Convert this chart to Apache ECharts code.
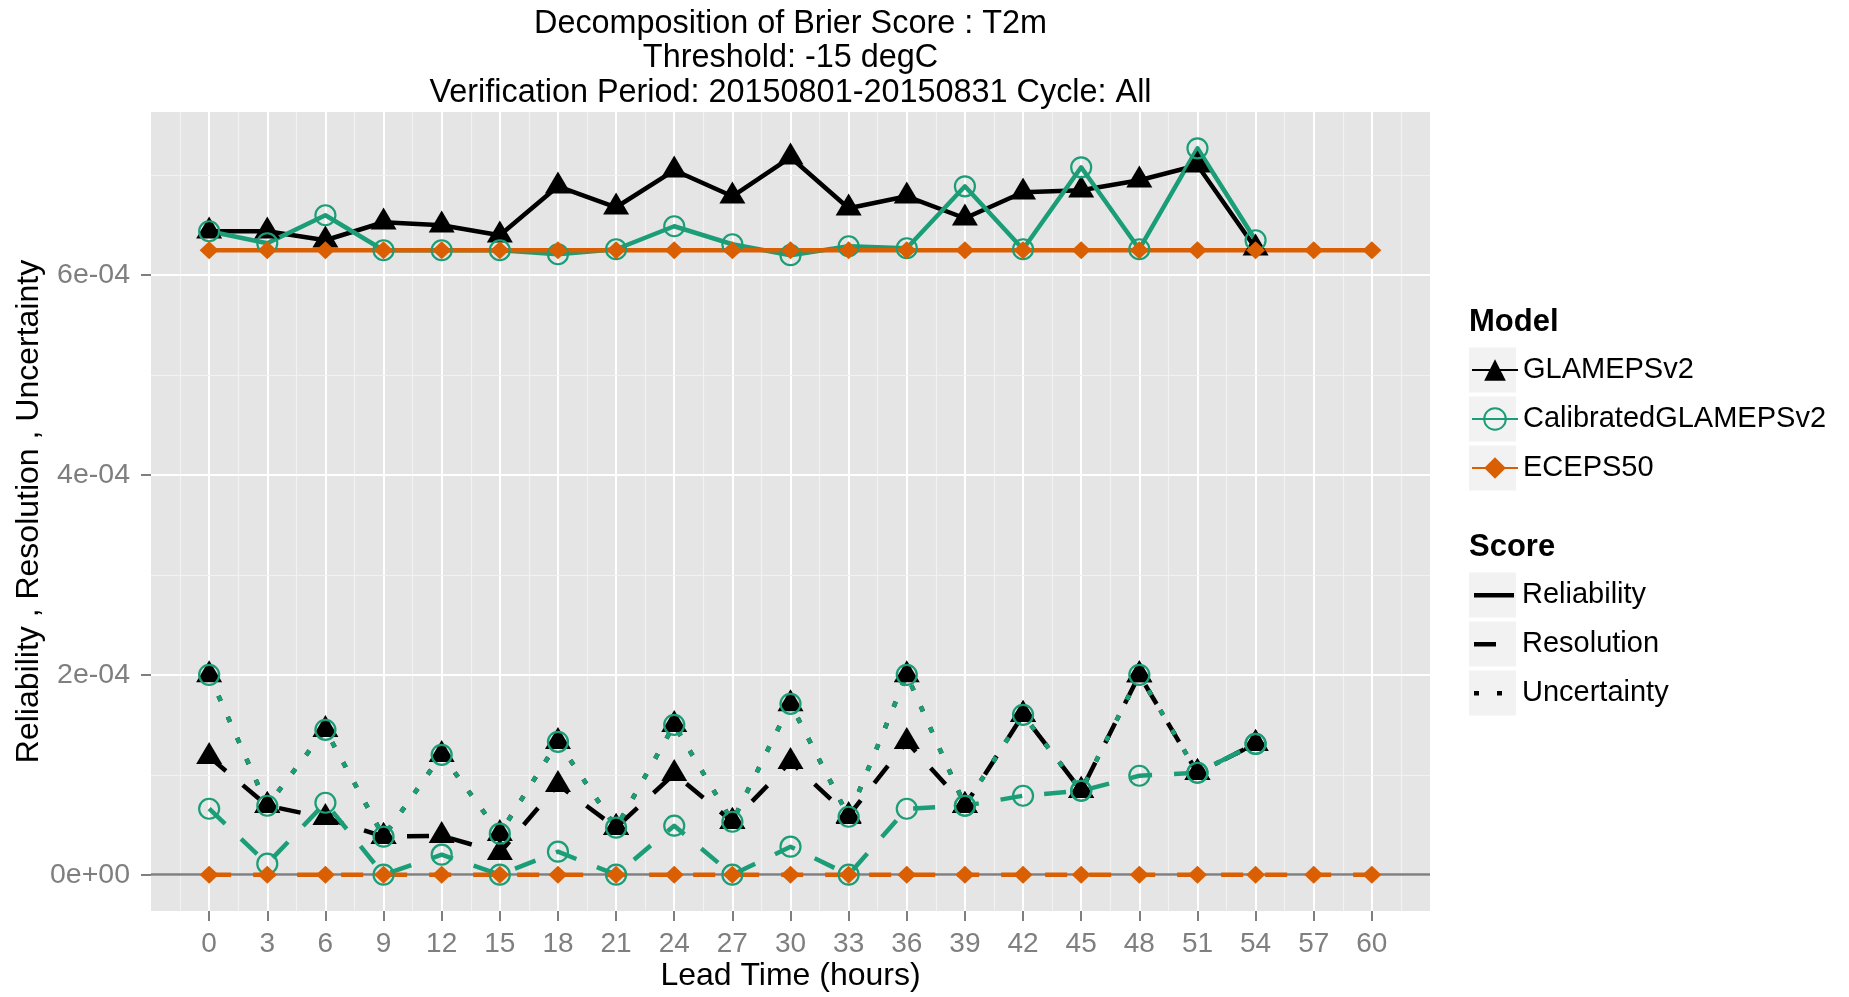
<!DOCTYPE html>
<html>
<head>
<meta charset="utf-8">
<script src="https://cdn.jsdelivr.net/npm/echarts@6.0.0/dist/echarts.min.js"></script>
<style>
html,body{margin:0;padding:0;background:#ffffff;}
#chart{width:1849px;height:997px;}
</style>
</head>
<body>
<div id="chart"></div>
<script>
// ---------------- data ----------------
const leadTimes = [0,3,6,9,12,15,18,21,24,27,30,33,36,39,42,45,48,51,54,57,60];
const xTickLabels = [0,3,6,9,12,15,18,21,24,27,30,33,36,39,42,45,48,51,54,57,60];
const yTicks = [0, 2e-4, 4e-4, 6e-4];
const yMinorGrid = [1e-4, 3e-4, 5e-4, 7e-4];
const yRange = [-0.3635e-4, 7.6335e-4];
const xRange = [-3, 63];

const titleLines = ['Decomposition of Brier Score : T2m', 'Threshold: -15 degC', 'Verification Period: 20150801-20150831 Cycle: All'];
const models = ['GLAMEPSv2', 'CalibratedGLAMEPSv2', 'ECEPS50'];
const scores = ['Reliability', 'Resolution', 'Uncertainty'];

const glamepsReliability = [6.44e-4,6.44e-4,6.35e-4,6.53e-4,6.50e-4,6.40e-4,6.89e-4,6.68e-4,7.05e-4,6.79e-4,7.18e-4,6.67e-4,6.79e-4,6.57e-4,6.83e-4,6.85e-4,6.95e-4,7.10e-4,6.27e-4];
const glamepsResolution  = [1.18e-4,0.69e-4,0.57e-4,0.38e-4,0.39e-4,0.22e-4,0.90e-4,0.47e-4,1.01e-4,0.53e-4,1.13e-4,0.59e-4,1.33e-4,0.69e-4,1.60e-4,0.84e-4,2.00e-4,1.02e-4,1.31e-4];
const glamepsUncertainty = [2.00e-4,0.69e-4,1.45e-4,0.38e-4,1.20e-4,0.41e-4,1.33e-4,0.47e-4,1.50e-4,0.53e-4,1.71e-4,0.58e-4,2.00e-4,0.69e-4,1.60e-4,0.84e-4,2.00e-4,1.02e-4,1.31e-4];

const calibReliability = [6.44e-4,6.32e-4,6.60e-4,6.25e-4,6.25e-4,6.25e-4,6.21e-4,6.26e-4,6.49e-4,6.31e-4,6.20e-4,6.29e-4,6.27e-4,6.89e-4,6.26e-4,7.08e-4,6.26e-4,7.27e-4,6.35e-4];
const calibResolution  = [0.66e-4,0.11e-4,0.72e-4,0,0.20e-4,0,0.23e-4,0,0.49e-4,0,0.28e-4,0,0.66e-4,0.69e-4,0.79e-4,0.84e-4,0.99e-4,1.02e-4,1.31e-4];
const calibUncertainty = [2.00e-4,0.69e-4,1.45e-4,0.38e-4,1.20e-4,0.41e-4,1.33e-4,0.47e-4,1.50e-4,0.53e-4,1.71e-4,0.58e-4,2.00e-4,0.69e-4,1.60e-4,0.84e-4,2.00e-4,1.02e-4,1.31e-4];

const ecepsReliability = [6.25e-4,6.25e-4,6.25e-4,6.25e-4,6.25e-4,6.25e-4,6.25e-4,6.25e-4,6.25e-4,6.25e-4,6.25e-4,6.25e-4,6.25e-4,6.25e-4,6.25e-4,6.25e-4,6.25e-4,6.25e-4,6.25e-4,6.25e-4,6.25e-4];
const ecepsResolution  = [0,0,0,0,0,0,0,0,0,0,0,0,0,0,0,0,0,0,0,0,0];

// ---------------- styles ----------------
const FONT = "'Liberation Sans', Arial, Helvetica, sans-serif";
const colors = {GLAMEPSv2:'#000000', CalibratedGLAMEPSv2:'#1B9E77', ECEPS50:'#D95F02'};
const dashes = {Reliability:'solid', Resolution:[22,22], Uncertainty:[5.5,17.5]};
const LINE_W = 4.5;

function pointStyle(model){
  if (model === 'GLAMEPSv2') return {symbol:'triangle', symbolSize:[26,22], symbolOffset:[0,-3.7], itemStyle:{color:'#000000', opacity:1}};
  if (model === 'CalibratedGLAMEPSv2') return {symbol:'circle', symbolSize:20, symbolOffset:[0,0], itemStyle:{color:'rgba(0,0,0,0)', borderColor:'#1B9E77', borderWidth:2.2, opacity:1}};
  return {symbol:'diamond', symbolSize:[19,18], symbolOffset:[0,0], itemStyle:{color:'#D95F02', opacity:1}};
}

const groups = [
  {model:'GLAMEPSv2', score:'Reliability', values:glamepsReliability},
  {model:'GLAMEPSv2', score:'Resolution', values:glamepsResolution},
  {model:'GLAMEPSv2', score:'Uncertainty', values:glamepsUncertainty},
  {model:'CalibratedGLAMEPSv2', score:'Reliability', values:calibReliability},
  {model:'CalibratedGLAMEPSv2', score:'Resolution', values:calibResolution},
  {model:'CalibratedGLAMEPSv2', score:'Uncertainty', values:calibUncertainty},
  {model:'ECEPS50', score:'Reliability', values:ecepsReliability},
  {model:'ECEPS50', score:'Resolution', values:ecepsResolution}
];

function pairs(values){ return values.map((v,i) => [leadTimes[i], v]); }

const series = [];
// gridlines + zero reference line
series.push({
  type:'line', name:'__grid', data:[], silent:true, animation:false,
  markLine:{
    silent:true, symbol:['none','none'], z:1, animation:false, precision:12,
    label:{show:false},
    emphasis:{disabled:true},
    data: [].concat(
      yMinorGrid.map(v => ({yAxis:v, lineStyle:{color:'#F2F2F2', width:1.2, type:'solid'}})),
      yTicks.map(v => ({yAxis:v, lineStyle:{color:'#FFFFFF', width:2, type:'solid'}})),
      [{yAxis:0, lineStyle:{color:'#7F7F7F', width:2.5, type:'solid'}}]
    )
  }
});
// lines
groups.forEach(g => {
  const ps = pointStyle(g.model);
  series.push({
    type:'line', name:g.model, data:pairs(g.values),
    showSymbol:false, symbol:ps.symbol, symbolSize:ps.symbolSize,
    itemStyle:ps.itemStyle,
    lineStyle:{color:colors[g.model], width:LINE_W, type:dashes[g.score], cap:'butt', join:'round'},
    z:2, silent:true, animation:false
  });
});
// points
groups.forEach(g => {
  const ps = pointStyle(g.model);
  series.push({
    type:'scatter', name:g.model, data:pairs(g.values),
    symbol:ps.symbol, symbolSize:ps.symbolSize, symbolOffset:ps.symbolOffset,
    itemStyle:ps.itemStyle, z:3, silent:true, animation:false
  });
});
// score legend carriers
scores.forEach(s => {
  series.push({type:'line', name:s, data:[], itemStyle:{color:'#000000'}, lineStyle:{color:'#000000', width:LINE_W}, silent:true});
});

function fmtExp(v){
  const s = Number(v).toExponential(0);
  const parts = s.split('e');
  const sign = parts[1][0];
  const digits = parts[1].slice(1).padStart(2,'0');
  return parts[0] + 'e' + sign + digits;
}

const scoreIcons = {
  Reliability: 'path://M0,0M46,22M3,9h40v4.5h-40z',
  Resolution:  'path://M0,0M46,22M3,9h22v4.5h-22z',
  Uncertainty: 'path://M0,0M46,22M3,9h5v4.5h-5zM26,9h5v4.5h-5z'
};

const keyCenters = [370, 419, 468, 595, 644, 693];

const option = {
  backgroundColor:'#ffffff',
  animation:false,
  textStyle:{fontFamily:FONT},
  title:[
    {text:titleLines.join('\n'), left:790.5, top:7, textAlign:'center', padding:0,
     textStyle:{fontFamily:FONT, fontSize:32.4, lineHeight:34.3, fontWeight:'normal', color:'#000000'}},
    {text:'Model', left:1469, top:306, padding:0,
     textStyle:{fontFamily:FONT, fontSize:31, lineHeight:32, fontWeight:'bold', color:'#000000'}},
    {text:'Score', left:1469, top:531, padding:0,
     textStyle:{fontFamily:FONT, fontSize:31, lineHeight:32, fontWeight:'bold', color:'#000000'}}
  ],
  graphic: keyCenters.map(cy => ({
    type:'rect', silent:true, z:0,
    shape:{x:1469, y:cy-22.5, width:47, height:45},
    style:{fill:'#F2F2F2'}
  })),
  legend:[
    {data:models, orient:'vertical', left:1471, top:355, padding:0,
     itemWidth:46, itemHeight:27, itemGap:19, selectedMode:false,
     textStyle:{fontFamily:FONT, fontSize:29, lineHeight:30, color:'#000000'}},
    {data:scores.map(s => ({name:s, icon:scoreIcons[s]})), orient:'vertical', left:1471, top:580, padding:0,
     itemWidth:46, itemHeight:22, itemGap:19, selectedMode:false,
     textStyle:{fontFamily:FONT, fontSize:29, lineHeight:30, color:'#000000'}}
  ],
  grid:{left:151, right:419, top:112, bottom:83, show:true, backgroundColor:'#E5E5E5', borderWidth:0, containLabel:false},
  xAxis:{
    type:'value', min:xRange[0], max:xRange[1], interval:3,
    name:'Lead Time (hours)', nameLocation:'middle', nameGap:49, nameMoveOverlap:false,
    nameTextStyle:{fontFamily:FONT, fontSize:32, color:'#000000'},
    axisLine:{show:false, onZero:false},
    axisTick:{show:true, length:10, lineStyle:{color:'#7F7F7F', width:2}, customValues:xTickLabels},
    axisLabel:{show:true, margin:19, fontFamily:FONT, fontSize:28, color:'#7F7F7F', customValues:xTickLabels,
      formatter: v => String(v)},
    splitLine:{show:true, lineStyle:{color:'#FFFFFF', width:2}},
    minorTick:{show:false, splitNumber:2},
    minorSplitLine:{show:true, lineStyle:{color:'#F2F2F2', width:1.2}}
  },
  yAxis:{
    type:'value', min:yRange[0], max:yRange[1],
    name:'Reliability , Resolution , Uncertainty', nameLocation:'middle', nameGap:105.5, nameRotate:90, nameMoveOverlap:false,
    nameTextStyle:{fontFamily:FONT, fontSize:32, color:'#000000'},
    axisLine:{show:false, onZero:false},
    axisTick:{show:true, length:10, lineStyle:{color:'#7F7F7F', width:2}, customValues:yTicks},
    axisLabel:{show:true, margin:21, fontFamily:FONT, fontSize:28.5, color:'#7F7F7F', customValues:yTicks,
      formatter: v => fmtExp(v)},
    splitLine:{show:false}
  },
  series:series
};

const chart = echarts.init(document.getElementById('chart'), null, {renderer:'canvas'});
chart.setOption(option);
</script>
</body>
</html>
